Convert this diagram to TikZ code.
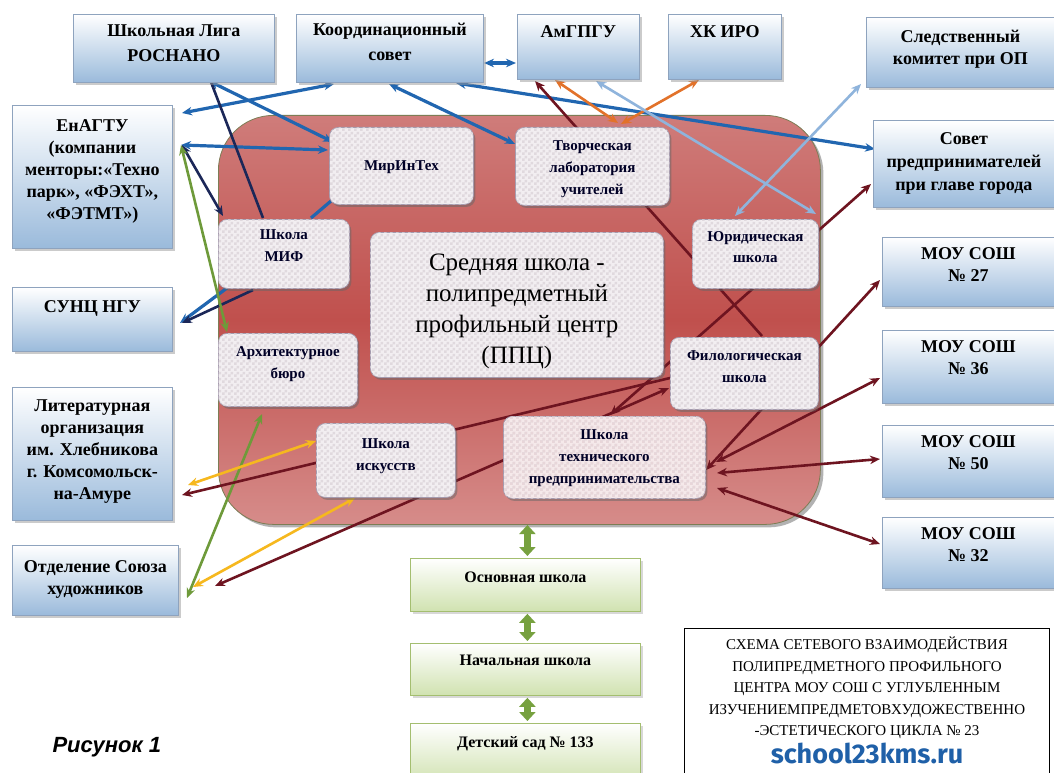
\documentclass[tikz,border=0pt]{standalone}
\usepackage{fontspec}
\setmainfont{Liberation Serif}
\newfontfamily\websans{Fira Sans}
\newfontfamily\figsans{Liberation Sans}
\usetikzlibrary{arrows.meta,shadows,calc,patterns}
\pgfdeclarelayer{bg}\pgfdeclarelayer{mid}\pgfsetlayers{bg,mid,main}
\pgfdeclarepatternformonly{chk}{\pgfpointorigin}{\pgfqpoint{6pt}{6pt}}{\pgfqpoint{6pt}{6pt}}{%
 \pgfpathrectangle{\pgfpointorigin}{\pgfqpoint{3pt}{3pt}}%
 \pgfpathrectangle{\pgfqpoint{3pt}{3pt}}{\pgfqpoint{3pt}{3pt}}%
 \pgfusepath{fill}}
\definecolor{boxblue}{HTML}{9ABADB}
\definecolor{bordblue}{HTML}{8EA3BE}
\definecolor{innerfill}{HTML}{F2EEF1}
\definecolor{innerchk}{HTML}{E0D9DE}
\definecolor{tehfill}{HTML}{F5E9EA}
\definecolor{tehchk}{HTML}{E8D6D9}
\definecolor{innerbord}{HTML}{A59BAE}
\definecolor{ppctop}{HTML}{CF7C7A}
\definecolor{ppcmid}{HTML}{C0504D}
\definecolor{ppcbot}{HTML}{D68C8A}
\definecolor{ppcbord}{HTML}{7D7D55}
\definecolor{grbot}{HTML}{D0E2B0}
\definecolor{grbord}{HTML}{A4BE70}
\definecolor{cblue}{HTML}{2166B0}
\definecolor{cnavy}{HTML}{1B2758}
\definecolor{cgreen}{HTML}{6E9A3A}
\definecolor{cyellow}{HTML}{F6B81E}
\definecolor{corange}{HTML}{E2722A}
\definecolor{clight}{HTML}{8FB4DC}
\definecolor{cred}{HTML}{6E1420}
\definecolor{garrow}{HTML}{77A13F}
\definecolor{urlblue}{HTML}{1F60A8}
\newcommand\bx[6]{\pgfmathsetlengthmacro\bxv{#5+0.33*#3-0.7*#4}\parbox[c][#2][t]{#1}{\centering\fontsize{#3}{#4}\selectfont\vspace*{\bxv}\strut #6\par}}
\tikzset{
 obox/.style={draw=bordblue, line width=0.8pt, top color=white, bottom color=boxblue, inner sep=0pt, anchor=north west, font=\bfseries, text=black,
   drop shadow={shadow xshift=2.5pt, shadow yshift=-2.5pt, fill=black!40}},
 ibox/.style={draw=innerbord, line width=0.8pt, rounded corners=9pt, fill=innerfill, postaction={pattern=chk, pattern color=innerchk},
   inner sep=0pt, anchor=north west, font=\bfseries, text=black!85!blue,
   drop shadow={shadow xshift=2pt, shadow yshift=-2.5pt, fill=black!60}},
 gbox/.style={draw=grbord, line width=0.8pt, top color=white, bottom color=grbot, inner sep=0pt, anchor=north west, font=\bfseries,
   drop shadow={shadow xshift=2.5pt, shadow yshift=-2.5pt, fill=black!30}},
 con/.style={line width=2.6pt},
 dbl/.style={{Stealth[length=10pt,width=8.5pt]}-{Stealth[length=10pt,width=8.5pt]}},
 arr/.style={-{Stealth[length=10pt,width=8.5pt]}},
 cb/.style={con, draw=cblue, line width=3.2pt},
 cn/.style={con, draw=cnavy},
 cg/.style={con, draw=cgreen},
 cy/.style={con, draw=cyellow},
 co/.style={con, draw=corange},
 cl/.style={con, draw=clight},
 cr/.style={con, draw=cred},
 garr/.style={draw=garrow, line width=6.5pt, {Triangle[length=9pt,width=16pt]}-{Triangle[length=9pt,width=16pt]}}
}
\begin{document}
\begin{tikzpicture}[x=1pt,y=-1pt]
\useasboundingbox (0,0) rectangle (1054,773);
% main red area
\begin{pgfonlayer}{bg}
\fill[white] (0,0) rectangle (1054,773);
\node[draw=ppcbord, line width=0.8pt, rounded corners=55pt, top color=ppctop, bottom color=ppcbot, middle color=ppcmid,
  minimum width=602pt, minimum height=409pt, anchor=north west, inner sep=0pt,
  drop shadow={shadow xshift=3pt, shadow yshift=-3pt, fill=black!60}] (ppc) at (218,115) {};
\end{pgfonlayer}
% outer boxes
\node[obox] (lig) at (73,14) {\bx{201pt}{68pt}{18}{25}{16}{Школьная Лига\\РОСНАНО}};
\node[obox] (koord) at (296,14) {\bx{187pt}{68pt}{18}{25}{15}{Координационный\\совет}};
\node[obox] (amg) at (517,14) {\bx{122pt}{65pt}{18}{25}{17}{АмГПГУ}};
\node[obox] (hk) at (668,14) {\bx{113pt}{65pt}{18}{25}{17}{ХК ИРО}};
\node[obox] (sled) at (866,17) {\bx{188pt}{70pt}{18}{22}{19}{Следственный\\комитет при ОП}};
\node[obox] (sovet) at (873,120) {\bx{181pt}{87pt}{18}{23}{18}{Совет\\предпринимателей\\при главе города}};
\node[obox] (ena) at (12,105) {\bx{160pt}{143pt}{18}{22}{20}{ЕнАГТУ\\(компании\\менторы:«Техно\\парк», «ФЭХТ»,\\«ФЭТМТ»)}};
\node[obox] (sunc) at (12,287) {\bx{160pt}{64pt}{18}{22}{19}{СУНЦ НГУ}};
\node[obox] (lit) at (12,387) {\bx{160pt}{133pt}{18}{22}{18}{Литературная\\организация\\им. Хлебникова\\г. Комсомольск-\\на-Амуре}};
\node[obox] (otd) at (12,545) {\bx{166pt}{70pt}{18}{22}{21}{Отделение Союза\\художников}};
\node[obox] (m27) at (882,237) {\bx{172pt}{69pt}{18}{22}{16}{МОУ СОШ\\№ 27}};
\node[obox] (m36) at (882,330) {\bx{172pt}{73pt}{18}{22}{16}{МОУ СОШ\\№ 36}};
\node[obox] (m50) at (882,425) {\bx{172pt}{72pt}{18}{22}{16}{МОУ СОШ\\№ 50}};
\node[obox] (m32) at (882,517) {\bx{172pt}{71pt}{18}{22}{16}{МОУ СОШ\\№ 32}};
% inner boxes
\node[ibox] (mir) at (329,127) {\bx{144pt}{77pt}{15}{22}{38}{МирИнТех}};
\node[ibox] (tvor) at (515,127) {\bx{154pt}{78pt}{15}{22}{18}{Творческая\\лаборатория\\учителей}};
\node[ibox] (mif) at (218,219) {\bx{131pt}{69pt}{15}{22}{15}{Школа\\МИФ}};
\node[ibox, font=\mdseries, text=black] (cent) at (370,232) {\bx{293pt}{145pt}{25}{31}{30}{Средняя школа -\\полипредметный\\профильный центр\\(ППЦ)}};
\node[ibox] (yur) at (692,219) {\bx{126pt}{69pt}{15}{21}{17}{Юридическая\\школа}};
\node[ibox] (arch) at (218,333) {\bx{139pt}{73pt}{15}{22}{18}{Архитектурное\\бюро}};
\node[ibox] (fil) at (670,337) {\bx{148pt}{72pt}{15}{22}{18}{Филологическая\\школа}};
\node[ibox] (isk) at (316,423) {\bx{139pt}{74pt}{15}{22}{20}{Школа\\искусств}};
\node[ibox, fill=tehfill, postaction={pattern=chk, pattern color=tehchk}] (teh) at (503,416) {\bx{202pt}{82pt}{15}{22}{18}{Школа\\технического\\предпринимательства}};
% lower green boxes
\node[gbox] (osn) at (410,558) {\bx{230pt}{53pt}{16}{22}{19}{Основная школа}};
\node[gbox] (nach) at (410,643) {\bx{230pt}{52pt}{16}{22}{17}{Начальная школа}};
\node[gbox] (det) at (410,723) {\bx{230pt}{60pt}{16}{22}{19}{Детский сад № 133}};
\draw[garr] ($(osn.north)+(2,-33)$) -- ($(osn.north)+(2,-2)$);
\draw[garr] ($(osn.south)+(2,2)$) -- ($(nach.north)+(2,-2)$);
\draw[garr] ($(nach.south)+(2,2)$) -- ($(det.north)+(2,-2)$);
% caption
\node[draw=black, line width=1pt, fill=white, inner sep=0pt, anchor=north west] (cap) at (684,628)
 {\parbox[c][150pt][t]{365pt}{\centering\fontsize{15}{21.5}\selectfont\vspace*{6pt}\strut СХЕМА СЕТЕВОГО ВЗАИМОДЕЙСТВИЯ\\ПОЛИПРЕДМЕТНОГО ПРОФИЛЬНОГО\\ЦЕНТРА МОУ СОШ С УГЛУБЛЕННЫМ\\ИЗУЧЕНИЕМПРЕДМЕТОВХУДОЖЕСТВЕННО\\-ЭСТЕТИЧЕСКОГО ЦИКЛА № 23\par
 {\websans\bfseries\fontsize{27}{28}\selectfont\color{urlblue}school23kms.ru\par}}};
\node[font=\figsans\bfseries\itshape\fontsize{22}{26}\selectfont, anchor=west] (fig) at (49,747) {Рисунок 1};
% connectors
\begin{pgfonlayer}{mid}
\draw[cb,dbl] ($(koord.north west)+(38,70)$) -- ($(ena.north west)+(170,8)$);
\draw[cb,dbl] ($(lig.north west)+(136,67)$) -- ($(mir.north west)+(4,15)$);
\draw[cb,dbl] ($(ena.north west)+(169,40)$) -- ($(mir.north west)+(-1,23)$);
\draw[cb,dbl] ($(koord.north west)+(93,70)$) -- ($(tvor.north west)+(0,17)$);
\draw[cb,dbl] ($(koord.north west)+(188,49)$) -- ($(amg.north west)+(-1,49)$);
\draw[cb,dbl] ($(koord.north west)+(160,69)$) -- ($(sovet.north west)+(2,29)$);
\draw[cb] ($(mir.north west)+(2,74)$) -- ($(mif.north west)+(93,-1)$);
\draw[cb,arr] ($(mif.north west)+(9,69)$) -- ($(sunc.north west)+(168,36)$);
\draw[cn] ($(lig.north west)+(138,68)$) -- ($(mif.north west)+(45,-1)$);
\draw[cn,arr] ($(mif.north west)+(35,71)$) -- ($(sunc.north west)+(170,36)$);
\draw[cn,dbl] ($(ena.north west)+(170,40)$) -- ($(mif.north west)+(5,-3)$);
\draw[cg,dbl] ($(ena.north west)+(169,40)$) -- ($(arch.north west)+(9,-1)$);
\draw[cg,dbl] ($(arch.north west)+(44,81)$) -- ($(otd.north west)+(175,53)$);
\draw[cy,dbl] ($(isk.north west)+(0,18)$) -- ($(lit.north west)+(176,98)$);
\draw[cy,dbl] ($(isk.north west)+(39,75)$) -- ($(otd.north west)+(181,42)$);
\draw[co,dbl] ($(tvor.north west)+(103,-4)$) -- ($(amg.north west)+(38,66)$);
\draw[co,dbl] ($(tvor.north west)+(106,-3)$) -- ($(hk.north west)+(31,66)$);
\draw[cl,dbl] ($(amg.north west)+(79,67)$) -- ($(yur.north west)+(124,-5)$);
\draw[cl,dbl] ($(sled.north west)+(-5,67)$) -- ($(yur.north west)+(43,-3)$);
\draw[cr,arr] ($(fil.north west)+(92,-1)$) -- ($(amg.north west)+(18,67)$);
\draw[cr,dbl] ($(teh.north west)+(107,-1)$) -- ($(sovet.north west)+(-2,64)$);
\draw[cr,arr] ($(fil.north west)+(0,41)$) -- ($(lit.north west)+(170,108)$);
\draw[cr,dbl] ($(fil.north west)+(-1,51)$) -- ($(otd.north west)+(203,41)$);
\draw[cr,dbl] ($(m27.north west)+(-2,43)$) -- ($(teh.north west)+(203,54)$);
\draw[cr,dbl] ($(m36.north west)+(-2,48)$) -- ($(teh.north west)+(213,46)$);
\draw[cr,dbl] ($(m50.north west)+(-2,34)$) -- ($(teh.north west)+(214,57)$);
\draw[cr,dbl] ($(m32.north west)+(-2,27)$) -- ($(teh.north west)+(214,72)$);
\end{pgfonlayer}
\end{tikzpicture}
\end{document}
